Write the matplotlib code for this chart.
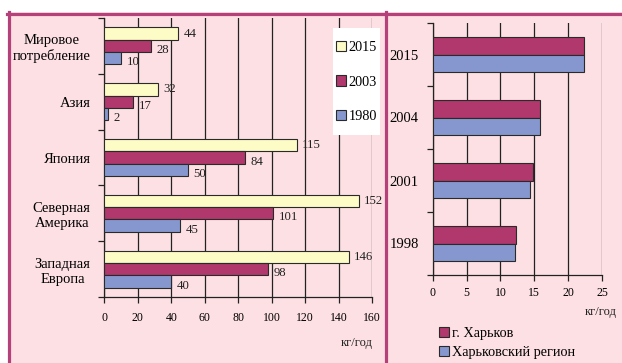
import matplotlib
matplotlib.use("Agg")
import matplotlib.pyplot as plt
from matplotlib.patches import Rectangle, Patch
from matplotlib.lines import Line2D
import numpy as np

plt.rcParams['font.family'] = ['Liberation Serif', 'DejaVu Serif']

# ---- data: world consumption by region (kg per year) ----
regions = ["Мировое\nпотребление", "Азия", "Япония", "Северная\nАмерика", "Западная\nЕвропа"]
years_left = ["2015", "2003", "1980"]
vals_2015 = [44, 32, 115, 152, 146]
vals_2003 = [28, 17, 84, 101, 98]
vals_1980 = [10, 2, 50, 45, 40]
left_ticks = [0, 20, 40, 60, 80, 100, 120, 140, 160]

# ---- data: Kharkiv (kg per year) ----
years_right = ["2015", "2004", "2001", "1998"]
kharkiv_city = [22.4, 15.9, 14.85, 12.35]
kharkiv_region = [22.4, 15.9, 14.35, 12.2]
right_ticks = [0, 5, 10, 15, 20, 25]
right_series = ["г. Харьков", "Харьковский регион"]

C_YEL = "#FDFBC6"
C_MAG = "#B0386C"
C_BLU = "#8597CE"
C_BG = "#FDE0E3"
C_FRAME = "#B5417A"
C_EDGE = "#2a2a2a"

W, H = 622, 363
fig = plt.figure(figsize=(W / 100, H / 100), dpi=100)
fig.patch.set_facecolor("white")


def fx(px):
    return px / W


def fy(py):
    return 1 - py / H


# pink panel background and magenta frame
fig.patches.append(Rectangle((fx(8), 0), 1, fy(12), transform=fig.transFigure,
                             facecolor=C_BG, edgecolor="none", zorder=-10))
fig.lines.append(Line2D([fx(7), 1], [fy(13.5), fy(13.5)], transform=fig.transFigure,
                        color=C_FRAME, lw=2.3, zorder=-5))
fig.lines.append(Line2D([fx(8.5), fx(8.5)], [0, fy(12)], transform=fig.transFigure,
                        color=C_FRAME, lw=2.3, zorder=-5))
fig.lines.append(Line2D([fx(386), fx(386)], [0, fy(12)], transform=fig.transFigure,
                        color=C_FRAME, lw=2.3, zorder=-5))


def style_axes(ax, ticks, xmax, ncat):
    ax.set_facecolor("none")
    ax.set_xlim(0, xmax)
    ax.set_ylim(ncat - 0.5, -0.5)
    ax.set_xticks(ticks)
    ax.xaxis.grid(True, color="#222222", lw=0.9)
    ax.set_axisbelow(True)
    for s in ("top", "right"):
        ax.spines[s].set_visible(False)
    for s in ("left", "bottom"):
        ax.spines[s].set_color("#222222")
        ax.spines[s].set_linewidth(0.9)
    ax.set_yticks(np.arange(ncat))
    ax.set_yticks(np.arange(ncat + 1) - 0.5, minor=True)
    ax.tick_params(axis="y", which="major", length=0, pad=10)
    ax.tick_params(axis="y", which="minor", length=4, width=0.9, color="#222222")
    ax.tick_params(axis="x", length=4, width=0.9, color="#222222", labelsize=8.5, pad=7)


# ---- left chart ----
axL = fig.add_axes([fx(104.5), fy(297), fx(372 - 104.5), (297 - 18) / H])
style_axes(axL, left_ticks, 160, len(regions))
y = np.arange(len(regions))
bh = 0.22
series = [(vals_2015, C_YEL, -bh, 0), (vals_2003, C_MAG, 0, -3), (vals_1980, C_BLU, bh, -3)]
for vals, col, off, dy in series:
    bars = axL.barh(y + off, vals, height=bh, color=col, edgecolor=C_EDGE, lw=0.8, zorder=3)
    for b, v in zip(bars, vals):
        axL.annotate(str(v), (v, b.get_y() + b.get_height() / 2), xytext=(4, dy),
                     textcoords="offset points", ha="left", va="center",
                     fontsize=9.2, color="#222222", zorder=4)
axL.set_yticklabels(regions, fontsize=10.5, ha="right", multialignment="center")
axL.tick_params(axis="y", pad=10)

fig.text(fx(373), fy(343), "кг/год", ha="right", va="center", fontsize=9, color="#222222")

# left legend in a white box drawn over the grid
axL.add_patch(Rectangle((fx(333), fy(135)), fx(380 - 333), (135 - 28) / H,
                        transform=fig.transFigure, facecolor="white",
                        edgecolor="none", zorder=6, clip_on=False))
handlesL = [Patch(facecolor=c, edgecolor=C_EDGE, lw=0.8) for c in (C_YEL, C_MAG, C_BLU)]
legL = axL.legend(handlesL, years_left, loc="center", bbox_to_anchor=(fx(356.5), fy(82)),
                  bbox_transform=fig.transFigure,
                  frameon=False, fontsize=10.3, handlelength=0.7, handleheight=0.7,
                  handletextpad=0.2, labelspacing=1.5, borderpad=0)
legL.set_zorder(7)

# ---- right chart ----
axR = fig.add_axes([fx(432.7), fy(275), fx(602 - 432.7), (275 - 23) / H])
style_axes(axR, right_ticks, 25, len(years_right))
y2 = np.arange(len(years_right))
bh2 = 0.28
axR.barh(y2 - bh2 / 2, kharkiv_city, height=bh2, color=C_MAG, edgecolor=C_EDGE, lw=0.8, zorder=3)
axR.barh(y2 + bh2 / 2, kharkiv_region, height=bh2, color=C_BLU, edgecolor=C_EDGE, lw=0.8, zorder=3)
axR.set_yticklabels(years_right, fontsize=10.5)
axR.tick_params(axis="y", pad=10)
axR.tick_params(axis="x", pad=5)

fig.text(fx(617), fy(312), "кг/год", ha="right", va="center", fontsize=9, color="#222222")

handlesR = [Patch(facecolor=c, edgecolor=C_EDGE, lw=0.8) for c in (C_MAG, C_BLU)]
fig.legend(handlesR, right_series, loc="upper left", bbox_to_anchor=(fx(439), fy(327)),
           frameon=False, fontsize=10.3, handlelength=0.7, handleheight=0.7,
           handletextpad=0.2, labelspacing=0.45, borderpad=0, borderaxespad=0)

fig.savefig("out.png", dpi=100)
